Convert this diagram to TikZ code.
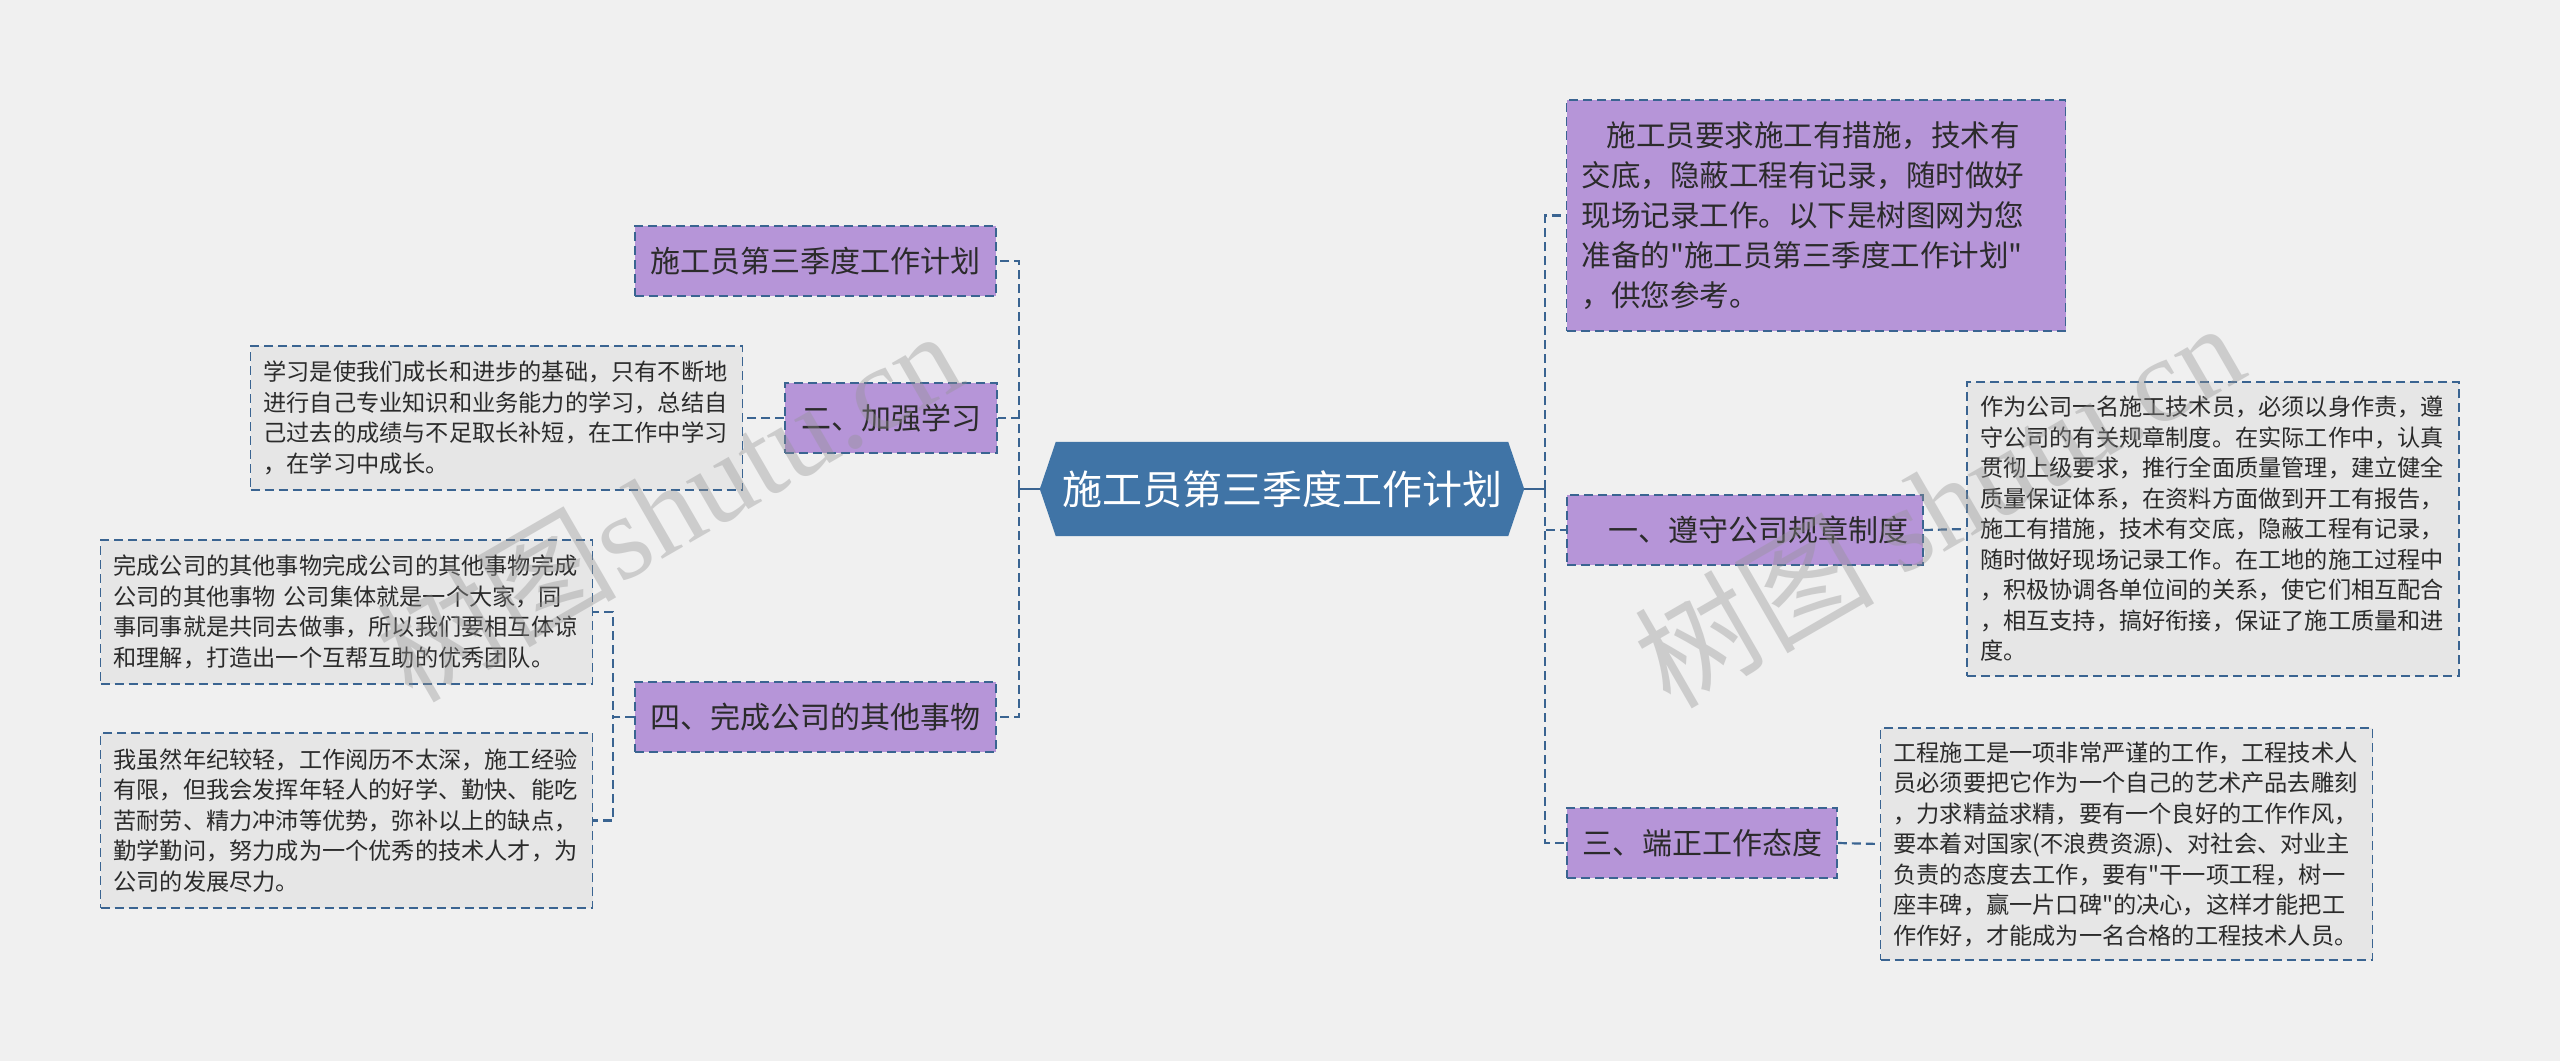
\documentclass[tikz,border=0pt]{standalone}
\usepackage{fontspec}
\setmainfont{Noto Sans CJK SC}[Ligatures=TeXOff]
\newfontfamily\wmserif{Liberation Serif}
\usetikzlibrary{backgrounds}
\definecolor{bgc}{HTML}{F0F0F0}
\definecolor{rootc}{HTML}{4074A6}
\definecolor{purp}{HTML}{B695D8}
\definecolor{edgec}{HTML}{3A6491}
\definecolor{boxc}{HTML}{E6E6E6}
\definecolor{txtc}{HTML}{2B2B2B}
\begin{document}
\begin{tikzpicture}[x=1pt,y=-1pt,
  conn/.style={draw=edgec, line width=2.2pt, dash pattern=on 9pt off 5pt},
  stub/.style={draw=edgec, line width=2.6pt},
  dashbox/.style={draw=edgec, line width=1.8pt, dash pattern=on 9pt off 5pt},
  rootnode/.style={text=white, font=\fontsize{40}{48}\selectfont, inner sep=0pt, minimum width=484pt, minimum height=94pt},
  label/.style={dashbox, fill=purp, text=txtc, font=\fontsize{30}{40}\selectfont, inner sep=0pt, minimum height=70pt},
  intro/.style={dashbox, fill=purp, text=txtc, font=\fontsize{29.5}{40}\selectfont, align=left, text width=469pt, inner xsep=15pt, inner ysep=0pt},
  graybox/.style={dashbox, fill=boxc, text=txtc, font=\fontsize{23.2}{30.5}\selectfont, align=left, text width=466pt, inner xsep=13pt, inner ysep=0pt},
  wm/.style={text=gray!85, opacity=0.38, font=\fontsize{120}{124}\selectfont, inner sep=0pt}
]
\useasboundingbox (0,0) rectangle (2560,1061);

% root
\node[rootnode] (root) at (1282,489) {施工员第三季度工作计划};
\begin{scope}[on background layer]
  \fill[bgc] (0,0) rectangle (2560,1061);
  \fill[rootc] (root.west) -- ([xshift=16pt]root.north west) -- ([xshift=-16pt]root.north east) -- (root.east) -- ([xshift=-16pt]root.south east) -- ([xshift=16pt]root.south west) -- cycle;
\end{scope}

% left branches
\node[label, minimum width=361pt] (l1) at (815.5,261) {施工员第三季度工作计划};
\node[label, minimum width=212pt] (l2) at (891,418) {二、加强学习};
\node[label, minimum width=361pt] (l4) at (815.5,717) {四、完成公司的其他事物};

\node[graybox, minimum height=144pt] (c2) at (496.5,418) {学习是使我们成长和进步的基础，只有不断地\\进行自己专业知识和业务能力的学习，总结自\\己过去的成绩与不足取长补短，在工作中学习\\，在学习中成长。};
\node[graybox, minimum height=144pt] (c4a) at (346.5,612) {完成公司的其他事物完成公司的其他事物完成\\公司的其他事物 公司集体就是一个大家，同\\事同事就是共同去做事，所以我们要相互体谅\\和理解，打造出一个互帮互助的优秀团队。};
\node[graybox, minimum height=175pt] (c4b) at (346.5,820.5) {我虽然年纪较轻，工作阅历不太深，施工经验\\有限，但我会发挥年轻人的好学、勤快、能吃\\苦耐劳、精力冲沛等优势，弥补以上的缺点，\\勤学勤问，努力成为一个优秀的技术人才，为\\公司的发展尽力。};

% right branches
\node[intro, minimum height=231pt] (r0) at (1816,215.5) {\hspace*{25pt}施工员要求施工有措施，技术有\\交底，隐蔽工程有记录，随时做好\\现场记录工作。以下是树图网为您\\准备的"施工员第三季度工作计划"\\，供您参考。};
\node[label, minimum width=356pt] (r1) at (1745,530) {\hspace*{26pt}一、遵守公司规章制度};
\node[label, minimum width=270pt] (r3) at (1702,843) {三、端正工作态度};

\node[graybox, minimum height=294pt] (c1) at (2213,529) {作为公司一名施工技术员，必须以身作责，遵\\守公司的有关规章制度。在实际工作中，认真\\贯彻上级要求，推行全面质量管理，建立健全\\质量保证体系，在资料方面做到开工有报告，\\施工有措施，技术有交底，隐蔽工程有记录，\\随时做好现场记录工作。在工地的施工过程中\\，积极协调各单位间的关系，使它们相互配合\\，相互支持，搞好衔接，保证了施工质量和进\\度。};
\node[graybox, minimum height=232pt] (c3) at (2126.5,844) {工程施工是一项非常严谨的工作，工程技术人\\员必须要把它作为一个自己的艺术产品去雕刻\\，力求精益求精，要有一个良好的工作作风，\\要本着对国家(不浪费资源)、对社会、对业主\\负责的态度去工作，要有"干一项工程，树一\\座丰碑，赢一片口碑"的决心，这样才能把工\\作作好，才能成为一名合格的工程技术人员。};

% connectors
\coordinate (lbus) at (1019,489);
\coordinate (rbus) at (1545,489);
\draw[stub] (root.west) -- (lbus);
\draw[stub] (root.east) -- (rbus);
\draw[conn] (lbus) |- (l1.east);
\draw[conn] (lbus) |- (l2.east);
\draw[conn] (lbus) |- (l4.east);
\draw[conn] (rbus) |- (r0.west);
\draw[conn] (rbus) |- (r1.west);
\draw[conn] (rbus) |- (r3.west);
\draw[conn] (l2.west) -- (c2.east);
\draw[conn] (l4.west) -- ++(-21,0) |- (c4a.east);
\draw[conn] (l4.west) -- ++(-21,0) |- (c4b.east);
\draw[conn] (r1.east) -- (c1.west);
\draw[conn] (r3.east) -- (c3.west);

% watermarks
\node[wm, rotate=30] (wm1) at (668,504) {树图{\wmserif shutu.cn}};
\node[wm, rotate=30] (wm2) at (1938,503) {树图 {\wmserif shutu.cn}};
\end{tikzpicture}
\end{document}
